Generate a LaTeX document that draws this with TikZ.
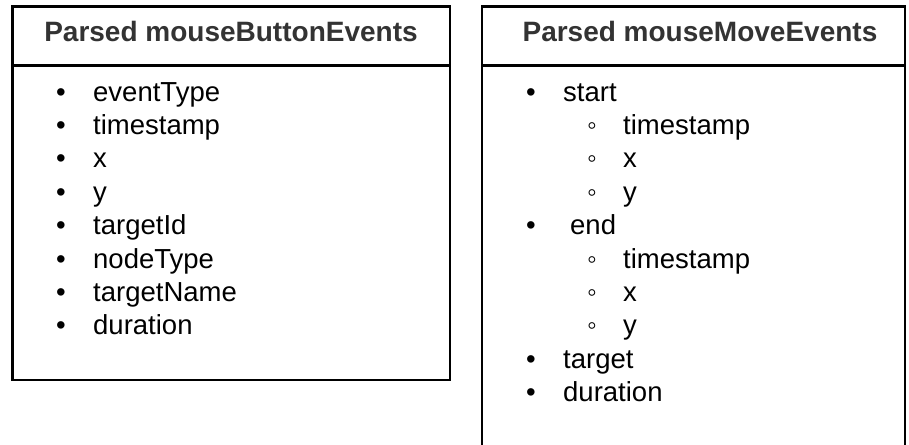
\documentclass[tikz,border=0pt]{standalone}
\usepackage{fontspec}
\setmainfont{Liberation Sans}
\definecolor{headgrey}{HTML}{333333}
\begin{document}
\begin{tikzpicture}[x=1pt,y=-1pt,
  frame/.style={line width=2.9pt, draw=black},
  head/.style={font=\fontsize{28}{33}\selectfont\bfseries, text=headgrey, anchor=base, inner sep=0},
  item/.style={font=\fontsize{27.5}{33}\selectfont, anchor=base west, inner sep=0},
  dot/.style={font=\fontsize{27.5}{33}\selectfont, anchor=base, inner sep=0}]
\useasboundingbox (0,0) rectangle (909,444);
% left box
\draw[frame] (12.5,6.7) rectangle (450,380);
\draw[frame] (12.5,65.5) -- (450,65.5);
% right box
\draw[frame] (482,470) -- (482,6.7) -- (905,6.7) -- (905,470);
\draw[frame] (482,65.5) -- (905,65.5);
% headers
\node[head] (h1) at (231,41.7) {Parsed mouseButtonEvents};
\node[head] (h2) at (700,41.7) {Parsed mouseMoveEvents};
% left list
\foreach \t [count=\i from 0] in {eventType,timestamp,x,y,targetId,nodeType,targetName,duration}{
  \node[dot] (lb\i) at (61,101+33.4*\i) {•};
  \node[item] (lt\i) at (93,101+33.4*\i) {\t};
}
% right list
\node[dot] (rb0) at (531,101) {•};
\node[item] (rt0) at (563,101) {start};
\node[dot] (rs1) at (592,101+33.4) {◦};
\node[item] (rt1) at (623,101+33.4) {timestamp};
\node[dot] (rs2) at (592,101+66.8) {◦};
\node[item] (rt2) at (623,101+66.8) {x};
\node[dot] (rs3) at (592,101+100.2) {◦};
\node[item] (rt3) at (623,101+100.2) {y};
\node[dot] (rb4) at (531,101+133.6) {•};
\node[item] (rt4) at (570,101+133.6) {end};
\node[dot] (rs5) at (592,101+167) {◦};
\node[item] (rt5) at (623,101+167) {timestamp};
\node[dot] (rs6) at (592,101+200.4) {◦};
\node[item] (rt6) at (623,101+200.4) {x};
\node[dot] (rs7) at (592,101+233.8) {◦};
\node[item] (rt7) at (623,101+233.8) {y};
\node[dot] (rb8) at (531,101+267.2) {•};
\node[item] (rt8) at (563,101+267.2) {target};
\node[dot] (rb9) at (531,101+300.6) {•};
\node[item] (rt9) at (563,101+300.6) {duration};
\end{tikzpicture}
\end{document}
